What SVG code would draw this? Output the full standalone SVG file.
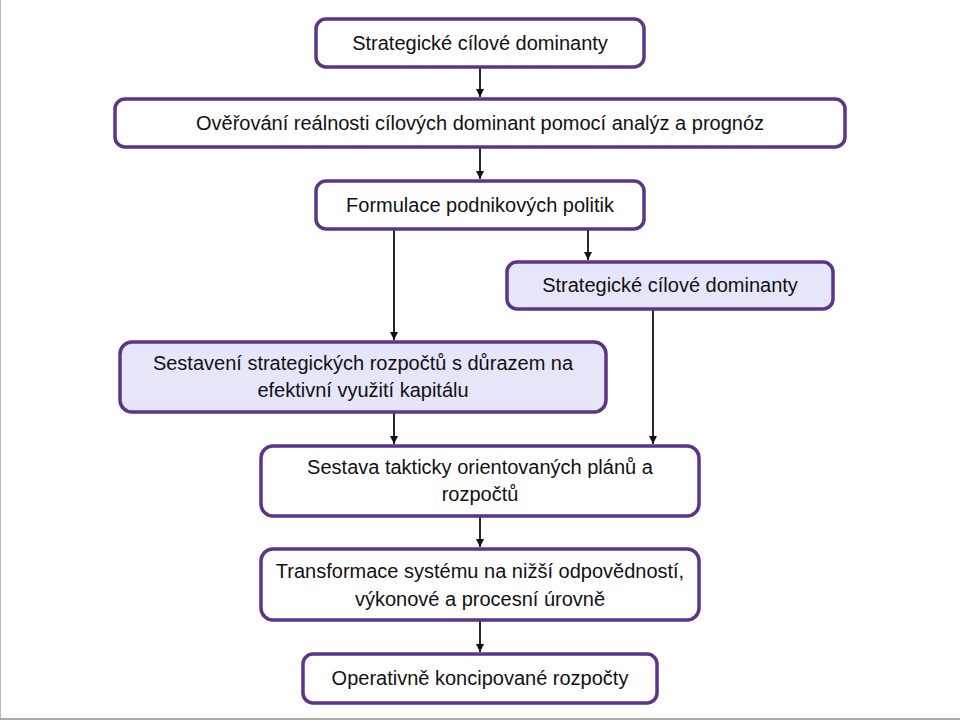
<svg xmlns="http://www.w3.org/2000/svg" width="960" height="720" viewBox="0 0 960 720">
<style>
.box{fill:#ffffff;stroke:#5d3486;stroke-width:3.5}
.lav{fill:#e6e6fa}
.t{font-family:"Liberation Sans",Arial,sans-serif;font-size:20px;fill:#111;text-anchor:middle}
.c{stroke:#111;stroke-width:1.8;fill:none;marker-end:url(#ah)}
</style>
<defs>
<marker id="ah" viewBox="0 0 10 10" refX="10" refY="5" markerWidth="9" markerHeight="8" markerUnits="userSpaceOnUse" orient="auto"><path d="M0,0 L10,5 L0,10 z" fill="#111"/></marker>
</defs>
<rect x="0" y="0" width="960" height="720" fill="#ffffff"/>
<line x1="0.5" y1="0" x2="0.5" y2="720" stroke="#bbbbbb" stroke-width="1"/>
<line x1="0" y1="719" x2="960" y2="719" stroke="#aaaaaa" stroke-width="2"/>
<g id="connectors">
<line class="c" x1="480" y1="68" x2="480" y2="97"/>
<line class="c" x1="480" y1="148" x2="480" y2="179"/>
<line class="c" x1="588" y1="230" x2="588" y2="260"/>
<line class="c" x1="394" y1="230" x2="394" y2="340"/>
<line class="c" x1="653" y1="310" x2="653" y2="444"/>
<line class="c" x1="394" y1="413" x2="394" y2="444"/>
<line class="c" x1="480" y1="517" x2="480" y2="547"/>
<line class="c" x1="480" y1="621" x2="480" y2="652"/>
</g>
<g id="n1"><rect class="box" x="316" y="19" width="328" height="48" rx="10"/><text class="t" x="480" y="50">Strategické cílové dominanty</text></g>
<g id="n2"><rect class="box" x="115" y="99" width="730" height="48" rx="10"/><text class="t" x="480" y="130">Ověřování reálnosti cílových dominant pomocí analýz a prognóz</text></g>
<g id="n3"><rect class="box" x="316" y="181" width="328" height="48" rx="10"/><text class="t" x="480" y="212">Formulace podnikových politik</text></g>
<g id="n4"><rect class="box lav" x="507" y="262" width="326" height="47" rx="10"/><text class="t" x="670" y="292">Strategické cílové dominanty</text></g>
<g id="n5"><rect class="box lav" x="120" y="342" width="486" height="70" rx="12"/><text class="t" x="363" y="370">Sestavení strategických rozpočtů s důrazem na</text><text class="t" x="363" y="397">efektivní využití kapitálu</text></g>
<g id="n6"><rect class="box" x="261" y="446" width="438" height="70" rx="12"/><text class="t" x="480" y="474">Sestava takticky orientovaných plánů a</text><text class="t" x="480" y="501">rozpočtů</text></g>
<g id="n7"><rect class="box" x="261" y="549" width="438" height="71" rx="12"/><text class="t" x="480" y="578">Transformace systému na nižší odpovědností,</text><text class="t" x="480" y="606">výkonové a procesní úrovně</text></g>
<g id="n8"><rect class="box" x="303" y="654" width="354" height="49" rx="10"/><text class="t" x="480" y="685">Operativně koncipované rozpočty</text></g>
</svg>
